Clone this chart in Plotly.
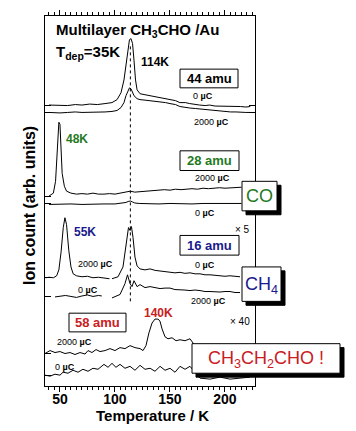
import plotly.graph_objects as go

# ---------------- data ----------------
t44_0 = [40, 50, 57, 64, 70, 77, 84, 91, 97.3, 101.9, 105.5, 108.2, 110, 111.9, 113.2, 114.6, 116, 117.3,
         118.7, 120.1, 122.8, 127.3, 131.9, 136, 141, 146, 150, 155, 159, 164, 168, 173, 177, 182, 186, 191,
         196, 200, 205, 210, 214, 219, 223]
s44_0 = [0.5, 0.5, 0, 1, 0.5, 1.5, 1, 2, 3, 6, 13, 26, 41, 59, 67, 68, 63, 46, 26, 16, 12, 11, 10, 9, 8.5, 7,
         6, 5, 3, 3, 2, 1, 0.5, 0, 0.5, -0.5, -0.5, -1, -0.5, -1, -1, -1.5, -1]
t44_2000 = [40, 50, 57, 64, 70, 77, 84, 91, 97.3, 101.9, 105.5, 108.2, 110, 111.9, 113.2, 114.6, 116, 117.3,
            120.1, 122.8, 127.3, 131.9, 136, 141, 146, 150, 155, 159, 164, 168, 173, 177, 182, 186, 191, 196,
            200, 205, 210, 214, 219, 223]
s44_2000 = [0, -0.5, 0, 0.5, 0, 0, 0.5, 0.5, 1, 2, 5, 10, 17, 22, 25, 24, 21, 17, 14, 13, 12.5, 12, 11, 10.5,
            10, 9, 8, 6, 5, 4.5, 4, 3.5, 3, 2.5, 2, 1.5, 1, 0.5, 0.5, 0, 0, 0]
t28_2000 = [40, 44, 46, 47, 48, 49, 50, 51, 52, 54, 56, 60, 65, 70, 75, 80, 85, 90, 95, 100, 105, 110, 114,
            118, 123, 128, 135, 140, 145, 150, 155, 160, 165, 170, 175, 180, 185, 190, 195, 200, 205, 210, 215]
s28_2000 = [0, 3, 15, 33, 58, 75, 73, 48, 23, 10, 5, 3, 2, 2.5, 2, 3, 2, 2, 2.5, 2, 3, 4, 5, 4, 4.5, 5, 5.5,
            6, 6.5, 6, 7, 6.5, 7, 7.5, 7, 8, 7.5, 8, 8.5, 8, 8.5, 9, 9]
t28_0 = [40, 50, 60, 70, 80, 90, 100, 105, 110, 112, 114, 116, 118, 122, 130, 140, 150, 160, 170, 180, 190,
         200, 210, 215]
s28_0 = [-0.5, 0, 0, -0.5, 0, 0, 0, 0.5, 1.5, 2.5, 3, 2, 1, 0.5, 0, 0, 0.5, 0, 0, 0.5, 0.5, 0.5, 0.5, 0.5]
t16_2000a = [37, 40, 44, 47, 49, 51, 53, 54.5, 56, 58, 60, 62, 65, 70, 75, 80, 85, 90, 95]
s16_2000a = [0, 0.5, 0, 2, 8, 26, 51, 61, 54, 28, 11, 4, 2, 1, 1.5, 0, 0.5, -0.5, -1]
t16_0b = [97.3, 102.8, 107.3, 110.0, 112.3, 113.7, 115.0, 116.4, 118.2, 120.1, 122.8, 127.3, 131.9, 136.5,
          141.0, 145.5, 150.0, 154.5, 159.1, 163.6, 168.2, 172.7, 177.3, 181.8, 186.4, 191.0, 195.5, 200.0,
          204.6, 209.1, 213.7]
s16_0b = [-1, 1, 11, 31, 51, 48, 52, 41, 21, 12, 9, 8, 9, 7.5, 7, 6, 6, 5, 5.5, 4.5, 5, 4, 4, 3, 3, 2.5,
          2.5, 1.5, 2, 1.5, 1]
t16_0a = [45.5, 50, 55, 60, 65, 70, 75, 80, 85, 88]
s16_0a = [-0.5, 0, 1, 0, -1, 0.5, 1.5, 0, 1, 0.5]
t16_2000b = [97.3, 104.6, 109.1, 111.4, 113.7, 115.5, 117.3, 120.1, 122.8, 127.3, 131.9, 136.5, 141.0, 145.5,
             150.0, 154.5, 159.1, 163.6, 168.2, 172.7, 177.3, 181.8, 186.4, 191.0, 195.5, 200.0, 204.6, 209.1,
             213.7]
s16_2000b = [-1.5, 2, 13, 22, 13, 10, 16, 10, 12, 9, 10, 9, 8, 8.5, 8.5, 7, 7, 6.5, 6, 6.5, 6, 5, 5, 4.5,
             4.5, 5, 5, 4, 4]
t58_2000 = [36.4, 41, 45.5, 50, 54.6, 59.1, 63.7, 68.2, 72.8, 75.5, 79.1, 82.8, 86.4, 91, 95.5, 100.0, 104.6,
            109.1, 113.7, 118.2, 122.8, 125.5, 128.2, 130.9, 133.7, 136.4, 139.1, 140.9, 142.8, 145.5, 148.2,
            151.9, 155.5, 159.1, 163.7, 168.2, 172.7, 177.3, 186.4, 195.5, 204.6, 213.7, 222.8]
s58_2000 = [0, 3, 1, 2, 0, 1, -1, 1, -0.5, 3, 1, 4, 2, 3, 5, 3, 6, 5, 8, 6, 5, 3, 8, 21, 31, 35, 35, 33, 25,
            17, 15, 16, 13, 14, 13, 15, 8, 3, 1, 2, 1, 2, 1]
t58_0 = [36.4, 41, 45.5, 50, 52.8, 57.3, 61.9, 66.4, 70.9, 75.5, 80, 84.6, 90, 93.7, 97.3, 100.9, 104.6,
         109.1, 113.7, 118.2, 122.8, 127.3, 131.9, 136.4, 141, 145.5, 150, 154.6, 159.1, 163.7, 168.2, 177.3,
         186.4, 195.5, 204.6, 213.7, 222.8]
s58_0 = [0, -1, 1, 0, 3, 2, 5, 3, 6, 4, 7, 6, 11, 8, 12, 8, 11, 7, 9, 5, 10, 6, 7, 4, 9, 5, 7, 3, 9, 6, 9,
         -3, -4, -2, -4, -3, -2]

offsets = {"44_0": 285, "44_2000": 278, "28_2000": 193, "28_0": 185,
           "16_hi": 110, "16_lo": 91, "58_2000": 33, "58_0": 11}

x_ticks = [50, 100, 150, 200]
peak_T = 114

traces = [
    (t44_0, s44_0, "44_0"), (t44_2000, s44_2000, "44_2000"),
    (t28_2000, s28_2000, "28_2000"), (t28_0, s28_0, "28_0"),
    (t16_2000a, s16_2000a, "16_hi"), (t16_0b, s16_0b, "16_hi"),
    (t16_0a, s16_0a, "16_lo"), (t16_2000b, s16_2000b, "16_lo"),
    (t58_2000, s58_2000, "58_2000"), (t58_0, s58_0, "58_0"),
]

W, H = 356, 431
L, R, T, B = 45, 255, 10, 386
FONT = "Liberation Sans, Arial, sans-serif"
GREEN = "#1f7a1f"
BLUE = "#1a1a8c"
RED = "#c8201e"

fig = go.Figure()
for tx, sx, key in traces:
    fig.add_trace(go.Scatter(x=tx, y=[v + offsets[key] for v in sx], mode="lines",
                             line=dict(color="black", width=1), showlegend=False, hoverinfo="skip"))


def px(xp, yp):
    return (xp - L) / (R - L), (B - yp) / (B - T)


ann = []
shapes = []


def text(s, xp, yp, size=9, color="black", xanchor="center", **kw):
    x, y = px(xp, yp)
    ann.append(dict(text=s, x=x, y=y, xref="paper", yref="paper", showarrow=False, xanchor=xanchor,
                    yanchor="middle", font=dict(family=FONT, size=size, color=color), **kw))


def rect(x0p, y0p, x1p, y1p, fill, line_color):
    xa, ya = px(x0p, y0p)
    xb, yb = px(x1p, y1p)
    shapes.append(dict(type="rect", xref="paper", yref="paper", x0=xa, y0=ya, x1=xb, y1=yb,
                       fillcolor=fill, line=dict(color=line_color, width=1), layer="above"))


def box(s, x0p, y0p, x1p, y1p, size, color, shadow=False, bold=True, dy=0):
    if shadow:
        rect(x0p + 4, y0p + 4, x1p + 4, y1p + 4, "black", "black")
    rect(x0p, y0p, x1p, y1p, "white", "black")
    label = f"<b>{s}</b>" if bold else s
    text(label, (x0p + x1p) / 2, (y0p + y1p) / 2 + dy, size=size, color=color)


text("<b>Multilayer CH<sub>3</sub>CHO /Au</b>", 54, 25, size=15, xanchor="left")
text("<b>T<sub>dep</sub>=35K</b>", 54, 47, size=15, xanchor="left")
text("<b>114K</b>", 139, 57, size=12, xanchor="left")
box("44 amu", 180, 64, 238, 83, 13, "black")
text("0 <b>µC</b>", 203, 91)
text("2000 <b>µC</b>", 211, 118)
text("<b>48K</b>", 64, 135, size=12, color=GREEN, xanchor="left")
box("28 amu", 180, 147, 239, 167, 13, GREEN)
text("2000 <b>µC</b>", 212, 175)
box("CO", 242, 178, 277, 208, 18, GREEN, shadow=True, bold=False)
text("0 <b>µC</b>", 205, 210)
text("<b>55K</b>", 72, 229, size=12, color=BLUE, xanchor="left")
text("× 5", 242, 227, size=10)
box("16 amu", 180, 233, 239, 253, 13, BLUE)
text("2000 <b>µC</b>", 95, 262)
text("0 <b>µC</b>", 205, 263)
box("CH<sub>4</sub>", 242, 265, 281, 300, 18, BLUE, shadow=True, bold=False, dy=1)
text("0 <b>µC</b>", 88, 288)
text("2000 <b>µC</b>", 208, 300)
text("<b>140K</b>", 158, 312, size=12, color=RED)
box("58 amu", 69, 312, 126, 331, 13, RED)
text("× 40", 240, 320, size=10)
text("2000 <b>µC</b>", 74, 341)
box("CH<sub>3</sub>CH<sub>2</sub>CHO !", 192, 343, 340, 373, 18, RED, shadow=True, bold=False, dy=1)
text("0 <b>µC</b>", 65, 367)
text("<b>Ion count (arb. units)</b>", 30, 203, size=16, textangle=-90)
text("<b>Temperature / K</b>", 152, 416, size=15)

shapes.append(dict(type="line", xref="x", yref="y", x0=peak_T, x1=peak_T, y0=86, y1=346,
                   line=dict(color="black", width=1, dash="dot"), layer="below"))

fig.update_layout(
    width=W, height=H, margin=dict(l=L, r=W - R, t=T, b=H - B),
    paper_bgcolor="white", plot_bgcolor="white", annotations=ann, shapes=shapes,
    font=dict(family=FONT, color="black"),
)
fig.update_xaxes(range=[36.4, 227.3], showgrid=False, zeroline=False, showline=True, linecolor="black",
                 linewidth=1, mirror="allticks", ticks="outside", ticklen=5, tickcolor="black",
                 tickvals=x_ticks, ticktext=[f"<b>{v}</b>" for v in x_ticks], ticklabelstandoff=-5,
                 tickfont=dict(family=FONT, size=14, color="black"),
                 minor=dict(dtick=5, ticks="outside", ticklen=3, tickcolor="black", showgrid=False))
fig.update_yaxes(range=[0, 376], showgrid=False, zeroline=False, showline=True, linecolor="black",
                 linewidth=1, mirror="allticks", ticks="inside", ticklen=6, tickcolor="black",
                 tickvals=sorted(offsets.values()), showticklabels=False)

fig.write_html("out.html")
